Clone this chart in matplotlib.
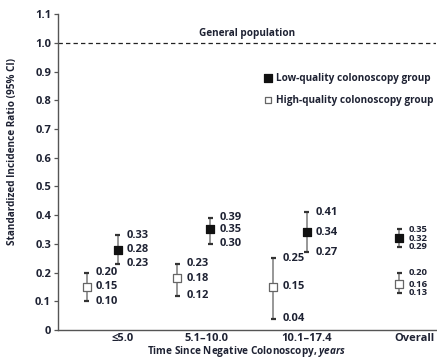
import matplotlib.pyplot as plt

plt.rcParams['font.family'] = ['Open Sans', 'DejaVu Sans']
plt.rcParams['mathtext.fontset'] = 'custom'
plt.rcParams['mathtext.it'] = 'Open Sans:italic:bold'

# Standardized incidence ratios with 95% CI
periods = ['\u22645.0', '5.1\u201310.0', '10.1\u201317.4', 'Overall']
tick_pos = [0.77, 1.77, 2.96, 4.24]

low_x = [0.71, 1.81, 2.96, 4.06]
low_sir = [0.28, 0.35, 0.34, 0.32]
low_lo = [0.23, 0.30, 0.27, 0.29]
low_hi = [0.33, 0.39, 0.41, 0.35]

high_x = [0.34, 1.42, 2.56, 4.06]
high_sir = [0.15, 0.18, 0.15, 0.16]
high_lo = [0.10, 0.12, 0.04, 0.13]
high_hi = [0.20, 0.23, 0.25, 0.20]

general_pop = 1.0

txt = '#1e2233'
bar_col = '#7a7a7a'
cap_col = '#333333'

fig = plt.figure(figsize=(4.37, 3.59), dpi=100)
ax = fig.add_axes([0.1327, 0.0808, 0.865, 0.880])


def draw_group(xs, sir, lo, hi, face, edge, msize):
    for x, s, l, h in zip(xs, sir, lo, hi):
        ax.plot([x, x], [l, h], color=bar_col, lw=1.1, zorder=2)
        for v in (l, h):
            ax.plot([x - 0.03, x + 0.03], [v, v], color=cap_col, lw=1.6,
                    solid_capstyle='butt', zorder=3)
    ax.scatter(xs, sir, marker='s', s=msize, facecolor=face,
               edgecolor=edge, linewidths=0.9, zorder=4)


draw_group(low_x, low_sir, low_lo, low_hi, '#111111', '#111111', 36)
draw_group(high_x, high_sir, high_lo, high_hi, 'white', '#666666', 32)

# value labels beside each estimate
for xs, sir, lo, hi in ((low_x, low_sir, low_lo, low_hi),
                        (high_x, high_sir, high_lo, high_hi)):
    for i, (x, s, l, h) in enumerate(zip(xs, sir, lo, hi)):
        fs = 8 if i < 3 else 6.8
        for v in (h, s, l):
            ax.text(x + 0.11, v, f'{v:.2f}', ha='left', va='center',
                    fontsize=fs, fontweight='bold', color=txt)

# general population reference
ax.axhline(general_pop, color='#222222', lw=0.9, ls=(0, (3.5, 2.5)), zorder=1)
ax.text(2.25, general_pop + 0.012, 'General population', ha='center',
        va='bottom', fontsize=7.2, fontweight='bold', color=txt)

# legend
ax.scatter([2.5], [0.876], marker='s', s=30, facecolor='#111111',
           edgecolor='#111111', linewidths=0.9)
ax.scatter([2.5], [0.80], marker='s', s=24, facecolor='white',
           edgecolor='#666666', linewidths=0.9)
ax.text(2.6, 0.876, 'Low-quality colonoscopy group', ha='left', va='center',
        fontsize=7.2, fontweight='bold', color=txt)
ax.text(2.6, 0.80, 'High-quality colonoscopy group', ha='left', va='center',
        fontsize=7.2, fontweight='bold', color=txt)

ax.set_xlim(0, 4.5)
ax.set_ylim(0, 1.1)
ax.set_yticks([i / 10 for i in range(12)])
ax.set_yticklabels(['0'] + [f'{i / 10:.1f}' for i in range(1, 12)])
ax.set_xticks(tick_pos)
ax.set_xticklabels(periods)

for sp in ('top', 'right'):
    ax.spines[sp].set_visible(False)
for sp in ('left', 'bottom'):
    ax.spines[sp].set_color('#555555')
    ax.spines[sp].set_linewidth(1.0)

ax.tick_params(axis='y', length=3, width=0.9, color='#555555', pad=2,
               labelsize=8, labelcolor=txt)
ax.tick_params(axis='x', length=0, pad=2, labelsize=8, labelcolor=txt)
for lab in ax.get_xticklabels() + ax.get_yticklabels():
    lab.set_fontweight('bold')

ax.set_ylabel('Standardized Incidence Ratio (95% CI)', fontsize=7.2,
              fontweight='bold', color=txt)
ax.yaxis.set_label_coords(-0.105, 0.566)
ax.set_xlabel(r'Time Since Negative Colonoscopy, $\it{years}$', fontsize=7.2,
              fontweight='bold', color=txt, labelpad=0)
ax.xaxis.set_label_coords(0.5, -0.043)

fig.savefig('out.png', dpi=100)
